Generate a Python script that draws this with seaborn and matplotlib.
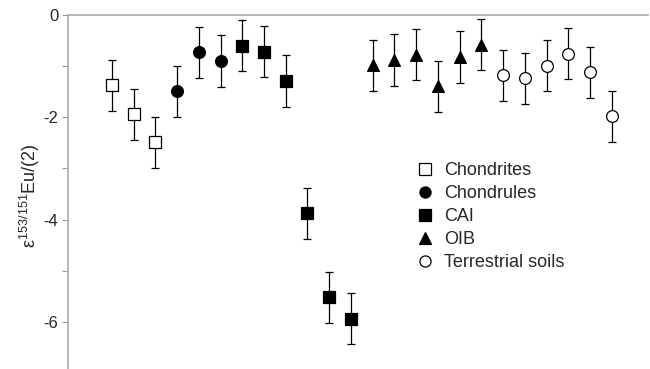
import matplotlib
matplotlib.use("Agg")
import matplotlib.pyplot as plt
from matplotlib.lines import Line2D
import numpy as np
import pandas as pd
import seaborn as sns

# values, in plotting order
chondrites = [-1.37, -1.94, -2.49]
chondrules = [-1.49, -0.73, -0.90]
cai = [-0.60, -0.72, -1.29, -3.88, -5.52, -5.94]
oib = [-0.98, -0.88, -0.78, -1.39, -0.82, -0.58]
soils = [-1.18, -1.24, -0.99, -0.76, -1.12, -1.98]
err = 0.5

groups = ["Chondrites", "Chondrules", "CAI", "OIB", "Terrestrial soils"]
values = [chondrites, chondrules, cai, oib, soils]
markers = {"Chondrites": "s", "Chondrules": "o", "CAI": "s", "OIB": "^", "Terrestrial soils": "o"}
faces = {"Chondrites": "white", "Chondrules": "black", "CAI": "black", "OIB": "black", "Terrestrial soils": "white"}

rows = []
for g, vals in zip(groups, values):
    for v in vals:
        rows.append({"group": g, "eps": v})
df = pd.DataFrame(rows)
df["idx"] = np.arange(len(df))

sns.set_style("white")
plt.rcParams['font.family'] = ['Liberation Sans', 'DejaVu Sans']
plt.rcParams['mathtext.fontset'] = 'custom'
plt.rcParams['mathtext.rm'] = 'Liberation Sans'
plt.rcParams['mathtext.it'] = 'Liberation Sans'

fig = plt.figure(figsize=(6.5, 3.69), dpi=100)
ax = fig.add_axes([68 / 650, 0.0, 580 / 650, 1 - 15 / 369])

ax.errorbar(df["idx"], df["eps"], yerr=err, fmt="none", ecolor="black",
            elinewidth=0.9, capsize=2.7, capthick=0.9, zorder=2)

for g in groups:
    sub = df[df["group"] == g]
    sns.scatterplot(data=sub, x="idx", y="eps", marker=markers[g], s=72,
                    color=faces[g], edgecolor="black", linewidth=0.9,
                    ax=ax, zorder=3, legend=False)

ax.set_xlim(-2.02, 24.67)
ax.set_ylim(-6.92, 0)
ax.set_xticks([])
ax.set_yticks([0, -2, -4, -6])
ax.set_yticks([-1, -3, -5], minor=True)
ax.set_yticklabels(["0", "-2", "-4", "-6"])
ax.tick_params(axis="y", which="both", direction="out", length=4, width=0.8,
               color="#999999", labelsize=12, left=True, pad=3)
for side in ["right", "bottom"]:
    ax.spines[side].set_visible(False)
for side in ["left", "top"]:
    ax.spines[side].set_color("#aaaaaa")
    ax.spines[side].set_linewidth(1.2)

ax.set_xlabel("")
ax.set_ylabel(r"$ε^{153/151}$Eu/(2)", fontsize=13)
ax.yaxis.set_label_coords(-0.045, 0.49)

handles = [Line2D([], [], linestyle="none", marker=markers[g], markersize=8,
                  markerfacecolor=faces[g], markeredgecolor="black",
                  markeredgewidth=0.9, label=g) for g in groups]
fig.legend(handles=handles, loc="upper left", bbox_to_anchor=(407 / 650, 1 - 153 / 369),
           frameon=False, fontsize=13, handlelength=1.0, handletextpad=0.55,
           labelspacing=0.33, borderpad=0)

fig.savefig("out.png", dpi=100)
